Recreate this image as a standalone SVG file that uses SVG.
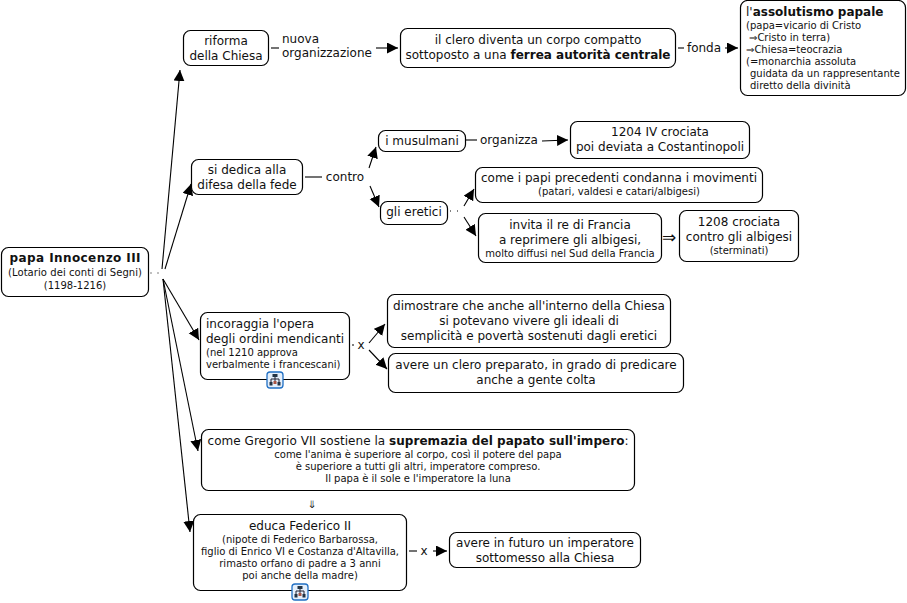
<svg xmlns="http://www.w3.org/2000/svg" width="907" height="603" viewBox="0 0 907 603">
<style>
text{font-family:"DejaVu Sans",Verdana,sans-serif;font-size:12px;fill:#111;text-anchor:middle}
.s{font-size:10px}
.l{text-anchor:start}
.b{font-weight:bold}
.o{font-size:17px}
.n{fill:#fff;stroke:#000;stroke-width:1.2}
.c{fill:none;stroke:#000;stroke-width:1.1}
.d{fill:none;stroke:#000;stroke-width:1;stroke-dasharray:1 6}
.ic{fill:#e4effb;stroke:#1f6fc4;stroke-width:1.3}
</style>
<defs>
<marker id="a" markerUnits="userSpaceOnUse" markerWidth="13" markerHeight="12" refX="11" refY="5.5" orient="auto"><path d="M0 0L11 5.5L0 11z" fill="#000"/></marker>
<g id="tree"><rect x="0.5" y="0.5" width="16" height="16" rx="3" class="ic"/><path d="M8.500 5V7.500M4.500 11V7.500H12.500V11M8.500 7.500V11" fill="none" stroke="#223" stroke-width="1"/><rect x="6" y="2.500" width="5" height="3" fill="#234"/><rect x="3" y="10.500" width="3" height="3.500" fill="#234"/><rect x="7" y="9.500" width="3" height="3" fill="#a54"/><rect x="11" y="10.500" width="3" height="3.500" fill="#234"/></g>
</defs>
<g id="connectors">
<path class="d" d="M150.500 273H160"/>
<path class="c" marker-end="url(#a)" d="M162 269L180 70"/>
<path class="c" marker-end="url(#a)" d="M165 269L191 184"/>
<path class="c" marker-end="url(#a)" d="M163 279L199 340"/>
<path class="c" marker-end="url(#a)" d="M163 279L198 451"/>
<path class="c" marker-end="url(#a)" d="M163 279L190 532"/>
<path class="c" d="M271 48H279"/>
<path class="c" marker-end="url(#a)" d="M376 48H398"/>
<path class="c" d="M678 48H684"/>
<path class="c" marker-end="url(#a)" d="M725 48H738"/>
<path class="c" d="M305 177H322"/>
<path class="c" marker-end="url(#a)" d="M369 168L376 147"/>
<path class="c" marker-end="url(#a)" d="M370 186L379 207"/>
<path class="c" d="M466 140H477"/>
<path class="c" marker-end="url(#a)" d="M542 141L568 140"/>
<path class="d" d="M450 211H458"/>
<path class="c" marker-end="url(#a)" d="M464 206L474 189"/>
<path class="c" marker-end="url(#a)" d="M464 217L476 236"/>
<path class="c" d="M352 345H354"/>
<path class="c" marker-end="url(#a)" d="M369 343L385 324"/>
<path class="c" marker-end="url(#a)" d="M369 350L387 369"/>
<path class="c" d="M409 551H417"/>
<path class="c" marker-end="url(#a)" d="M433 551H447"/>
</g>
<g id="n1"><rect class="n" x="1.500" y="247.500" width="147" height="49" rx="7"/><text class="b" x="75" y="262" textLength="131">papa Innocenzo III</text><text class="s" x="75" y="276" textLength="134">(Lotario dei conti di Segni)</text><text class="s" x="75" y="289">(1198-1216)</text></g>
<g id="n2"><rect class="n" x="183.500" y="30.500" width="85" height="35" rx="7"/><text x="226" y="45">riforma</text><text x="226" y="60">della Chiesa</text></g>
<g id="l1"><text class="l" x="282" y="43">nuova</text><text class="l" x="282" y="57">organizzazione</text></g>
<g id="n3"><rect class="n" x="400.500" y="28.500" width="275" height="39" rx="7"/><text x="538" y="44">il clero diventa un corpo compatto</text><text x="538" y="59">sottoposto a una <tspan class="b">ferrea autorità centrale</tspan></text></g>
<g id="l2"><text x="704" y="52">fonda</text></g>
<g id="n4"><rect class="n" x="740.500" y="0.500" width="165" height="95" rx="7"/><text class="l" x="746" y="16">l'<tspan class="b">assolutismo papale</tspan></text><text class="l s" x="746" y="29">(papa=vicario di Cristo</text><text class="l s" x="749" y="41">⇒Cristo in terra)</text><text class="l s" x="746" y="53">⇒Chiesa=teocrazia</text><text class="l s" x="746" y="65">(=monarchia assoluta</text><text class="l s" x="750" y="77">guidata da un rappresentante</text><text class="l s" x="750" y="89">diretto della divinità</text></g>
<g id="n5"><rect class="n" x="191.500" y="159.500" width="111" height="35" rx="7"/><text x="247" y="174">si dedica alla</text><text x="247" y="189">difesa della fede</text></g>
<g id="l3"><text x="345" y="181">contro</text></g>
<g id="n6"><rect class="n" x="378.500" y="130.500" width="87" height="21" rx="7"/><text x="422" y="145">i musulmani</text></g>
<g id="l4"><text x="509" y="144">organizza</text></g>
<g id="n7"><rect class="n" x="570.500" y="121.500" width="179" height="37" rx="7"/><text x="660" y="136">1204 IV crociata</text><text x="660" y="151">poi deviata a Costantinopoli</text></g>
<g id="n8"><rect class="n" x="380.500" y="201.500" width="67" height="23" rx="7"/><text x="414" y="216">gli eretici</text></g>
<g id="n9"><rect class="n" x="475.500" y="167.500" width="287" height="35" rx="7"/><text x="619" y="182">come i papi precedenti condanna i movimenti</text><text class="s" x="619" y="195">(patari, valdesi e catari/albigesi)</text></g>
<g id="n10"><rect class="n" x="478.500" y="213.500" width="183" height="49" rx="7"/><text x="570" y="229">invita il re di Francia</text><text x="570" y="244">a reprimere gli albigesi,</text><text class="s" x="570" y="257">molto diffusi nel Sud della Francia</text></g>
<g id="l5"><text class="o" x="669" y="243">⇒</text></g>
<g id="n11"><rect class="n" x="679.500" y="210.500" width="119" height="51" rx="7"/><text x="739" y="226">1208 crociata</text><text x="739" y="241">contro gli albigesi</text><text class="s" x="739" y="254">(sterminati)</text></g>
<g id="n12"><rect class="n" x="200.500" y="312.500" width="149" height="67" rx="7"/><text class="l" x="206" y="328">incoraggia l'opera</text><text class="l" x="206" y="343">degli ordini mendicanti</text><text class="l s" x="206" y="356">(nel 1210 approva</text><text class="l s" x="206" y="368">verbalmente i francescani)</text><use href="#tree" x="266.500" y="371.500"/></g>
<g id="l6"><text x="361" y="349">x</text></g>
<g id="n13"><rect class="n" x="387.500" y="294.500" width="283" height="53" rx="7"/><text x="529" y="310">dimostrare che anche all'interno della Chiesa</text><text x="529" y="325">si potevano vivere gli ideali di</text><text x="529" y="340">semplicità e povertà sostenuti dagli eretici</text></g>
<g id="n14"><rect class="n" x="388.500" y="353.500" width="295" height="39" rx="7"/><text x="536" y="369">avere un clero preparato, in grado di predicare</text><text x="536" y="384">anche a gente colta</text></g>
<g id="n15"><rect class="n" x="201.500" y="429.500" width="433" height="61" rx="7"/><text x="418" y="445" textLength="421">come Gregorio VII sostiene la <tspan class="b">supremazia del papato sull'impero</tspan>:</text><text class="s" x="418" y="458">come l'anima è superiore al corpo, così il potere del papa</text><text class="s" x="418" y="470">è superiore a tutti gli altri, imperatore compreso.</text><text class="s" x="418" y="482">Il papa è il sole e l'imperatore la luna</text></g>
<g id="l7"><text x="312" y="508" style="font-family:'DejaVu Sans Mono',monospace;font-size:14px">⇓</text></g>
<g id="n16"><rect class="n" x="193.500" y="514.500" width="213" height="76" rx="7"/><text x="300" y="530">educa Federico II</text><text class="s" x="300" y="543">(nipote di Federico Barbarossa,</text><text class="s" x="300" y="555">figlio di Enrico VI e Costanza d'Altavilla,</text><text class="s" x="300" y="567">rimasto orfano di padre a 3 anni</text><text class="s" x="300" y="579">poi anche della madre)</text><use href="#tree" x="291.500" y="583.500"/></g>
<g id="l8"><text x="424" y="555">x</text></g>
<g id="n17"><rect class="n" x="449.500" y="532.500" width="191" height="35" rx="7"/><text x="545" y="547">avere in futuro un imperatore</text><text x="545" y="562">sottomesso alla Chiesa</text></g>
</svg>
